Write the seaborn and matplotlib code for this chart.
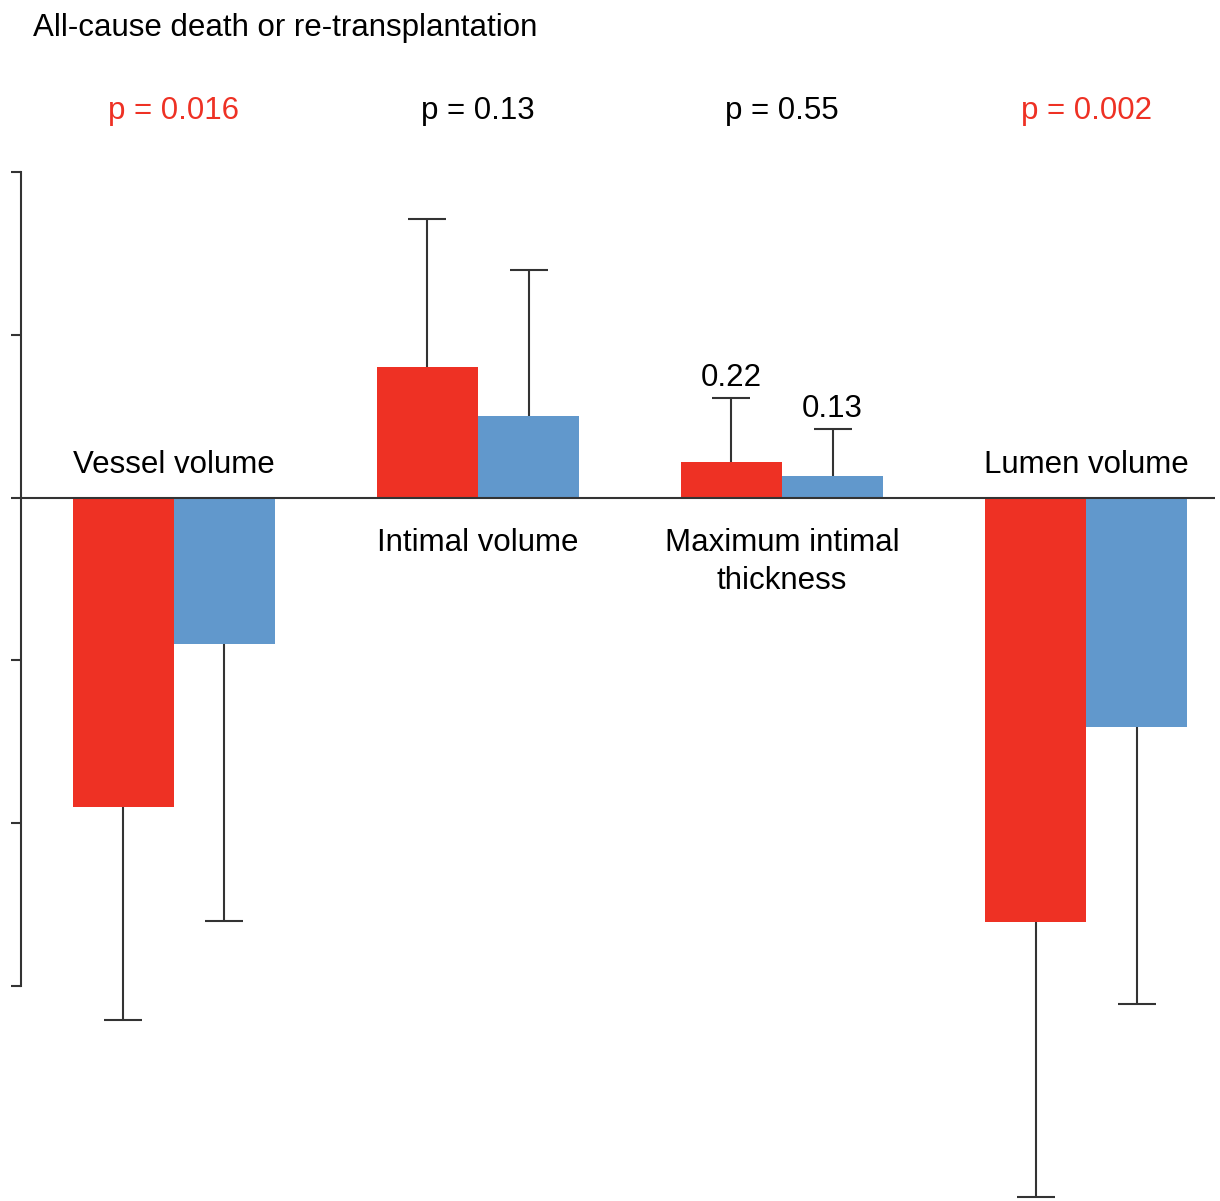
"""IVUS changes by outcome: paired bar chart with one-sided error bars"""
import matplotlib
matplotlib.use("Agg")
import matplotlib.pyplot as plt
import matplotlib.transforms as mtransforms
import pandas as pd
import seaborn as sns

# --- data ---
categories = ["Vessel volume", "Intimal volume", "Maximum intimal\nthickness", "Lumen volume"]
groups = ["Event", "No event"]
event_vals = [-1.90, 0.80, 0.22, -2.61]
no_event_vals = [-0.90, 0.50, 0.13, -1.41]
event_err = [1.31, 0.91, 0.39, 1.69]
no_event_err = [1.70, 0.90, 0.29, 1.70]
p_values = ["p = 0.016", "p = 0.13", "p = 0.55", "p = 0.002"]
p_significant = [True, False, False, True]
labelled_category = "Maximum intimal\nthickness"
y_ticks = [2, 1, 0, -1, -2, -3]

RED = "#EE3124"
BLUE = "#6198CC"
INK = "#333333"

sns.set_theme(style="white")
plt.rcParams["font.family"] = ["Liberation Sans", "DejaVu Sans"]

df = pd.DataFrame({
    "category": categories * 2,
    "group": [groups[0]] * len(categories) + [groups[1]] * len(categories),
    "value": event_vals + no_event_vals,
})
errs = {groups[0]: event_err, groups[1]: no_event_err}

fig = plt.figure(figsize=(12.2, 12.01), dpi=100)
ax = fig.add_axes([21 / 1220, 2 / 1201, 1194 / 1220, 1027 / 1201])

sns.barplot(data=df, x="category", y="value", hue="group", order=categories,
            hue_order=groups, palette=[RED, BLUE], saturation=1, width=0.665,
            linewidth=0, errorbar=None, legend=False, ax=ax)

# one-sided error bars, drawn from the bar geometry
for container, g in zip(ax.containers, groups):
    for bar, err, cat in zip(container, errs[g], categories):
        xc = bar.get_x() + bar.get_width() / 2
        h = bar.get_height()
        yerr = [[0], [err]] if h >= 0 else [[err], [0]]
        eb = ax.errorbar(xc, h, yerr=yerr, fmt="none", ecolor=INK, elinewidth=1.5,
                         capsize=13.7, capthick=1.5, zorder=3)
        # drop the cap that sits on the bar end
        for cap in eb.lines[1]:
            if abs(cap.get_ydata()[0] - h) < 1e-9:
                cap.set_visible(False)
        if cat == labelled_category:
            ax.annotate(f"{h:.2f}", (xc, h + err), xytext=(0, 8.5),
                        textcoords="offset points", ha="center", va="baseline",
                        fontsize=22.5, color="black")

ax.axhline(0, color=INK, lw=1.5, zorder=4)

# category labels on the opposite side of the bars
for i, cat in enumerate(categories):
    v = event_vals[i]
    if v < 0:
        ax.text(i, 0.153, cat, ha="center", va="baseline", fontsize=22.5, color="black")
    else:
        ax.text(i, -0.19, cat, ha="center", va="top", fontsize=22.5, color="black",
                linespacing=1.35)

# p-values above the plot
trans = mtransforms.blended_transform_factory(ax.transData, ax.transAxes)
for i, (p, sig) in enumerate(zip(p_values, p_significant)):
    ax.text(i, 1.059, p, transform=trans, ha="center", va="center",
            fontsize=22.5, color=RED if sig else "black", clip_on=False)

fig.text(33 / 1220, 1 - 28 / 1201, "All-cause death or re-transplantation",
         ha="left", va="center", fontsize=22.5, color="black")

ax.set_xlim(-0.503, 3.424)
ax.set_ylim(-4.31, 1.995)
ax.set_yticks(y_ticks)
ax.set_yticklabels([])
ax.set_xticks([])
ax.set_xlabel("")
ax.set_ylabel("")
for side in ["top", "right", "bottom"]:
    ax.spines[side].set_visible(False)
ax.spines["left"].set_bounds(-3, 2)
ax.spines["left"].set_color(INK)
ax.spines["left"].set_linewidth(1.5)
ax.tick_params(axis="y", left=True, length=7, width=1.5, color=INK, direction="out")

fig.savefig("out.png", dpi=100)
plt.close(fig)
